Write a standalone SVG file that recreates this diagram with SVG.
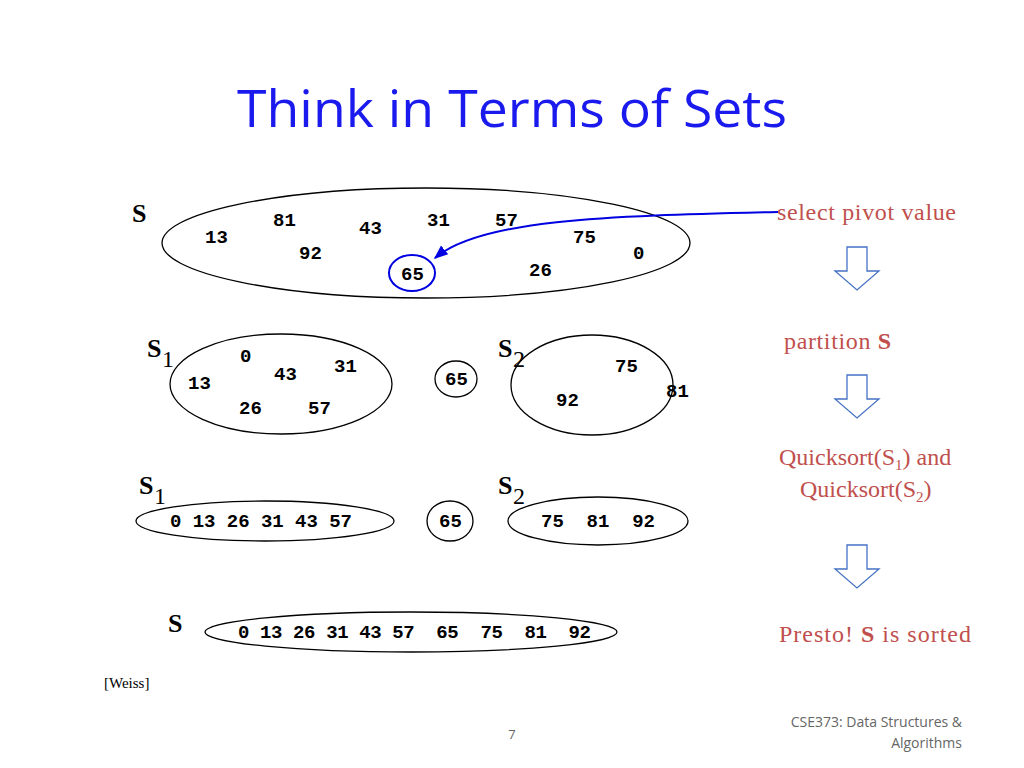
<svg xmlns="http://www.w3.org/2000/svg" width="1024" height="768" viewBox="0 0 1024 768">
<style>
.e{fill:none;stroke:#000;stroke-width:1.3}
.n{font-family:"Liberation Mono",monospace;font-weight:bold;font-size:19px;fill:#000}
.s{font-family:"Liberation Serif",serif;font-weight:bold;font-size:26px;fill:#000}
.sub{font-family:"Liberation Serif",serif;font-size:24px;fill:#000}
.r{font-family:"Liberation Serif",serif;font-size:24px;fill:#c0504d}
.da{fill:#fff;stroke:#4472c4;stroke-width:1.3}
</style>
<defs><marker id="ah" viewBox="0 0 10 10" refX="9" refY="5" markerWidth="7" markerHeight="7" orient="auto"><path d="M0,1 L10,5 L0,9 z" fill="#0000e0"/></marker>
<path id="dn" d="M-10,0 H10 V24 H22 L0,43 L-22,24 H-10 Z"/></defs>
<text x="237" y="127" textLength="550" lengthAdjust="spacingAndGlyphs" font-family="Open Sans,sans-serif" font-size="52" fill="#1a1aee">Think in Terms of Sets</text>
<g id="setS">
<ellipse class="e" cx="426" cy="243" rx="264" ry="55"/>
<text class="s" x="132" y="222">S</text>
<text class="n" x="273" y="226">81</text><text class="n" x="359" y="234">43</text><text class="n" x="427" y="226">31</text><text class="n" x="495" y="226">57</text>
<text class="n" x="205" y="243">13</text><text class="n" x="573" y="243">75</text><text class="n" x="633" y="259">0</text><text class="n" x="299" y="259">92</text>
<text class="n" x="529" y="276">26</text>
<ellipse cx="412" cy="273" rx="23" ry="18" fill="none" stroke="#0000e0" stroke-width="2"/>
<text class="n" x="401" y="280">65</text>
</g>
<g id="row2">
<ellipse class="e" cx="281" cy="384" rx="111" ry="50"/>
<text class="s" x="147" y="357">S</text><text class="sub" x="162" y="367">1</text>
<text class="n" x="240" y="362">0</text><text class="n" x="274" y="380">43</text><text class="n" x="334" y="372">31</text><text class="n" x="188" y="389">13</text><text class="n" x="239" y="414">26</text><text class="n" x="308" y="414">57</text>
<ellipse class="e" cx="456" cy="379" rx="21" ry="18"/><text class="n" x="445" y="385">65</text>
<ellipse class="e" cx="592" cy="385" rx="81" ry="50"/>
<text class="s" x="498" y="357">S</text><text class="sub" x="513" y="367">2</text>
<text class="n" x="615" y="372">75</text><text class="n" x="666" y="397">81</text><text class="n" x="556" y="406">92</text>
</g>
<g id="row3">
<text class="s" x="139" y="494">S</text><text class="sub" x="154" y="504">1</text>
<ellipse class="e" cx="265" cy="521" rx="129" ry="20"/><text class="n" x="170" y="527" textLength="182">0 13 26 31 43 57</text>
<ellipse class="e" cx="450" cy="521" rx="23" ry="20"/><text class="n" x="439" y="527">65</text>
<text class="s" x="498" y="494">S</text><text class="sub" x="513" y="504">2</text>
<ellipse class="e" cx="598" cy="521" rx="90" ry="24"/><text class="n" x="541" y="527" xml:space="preserve">75  81  92</text>
</g>
<g id="row4">
<text class="s" x="168" y="632">S</text>
<ellipse class="e" cx="411" cy="632" rx="206" ry="20"/><text class="n" x="238" y="638" textLength="353" xml:space="preserve">0 13 26 31 43 57  65  75  81  92</text>
</g>
<g id="labels">
<text class="r" x="777" y="220" textLength="179">select pivot value</text>
<text class="r" x="784" y="349" textLength="107">partition <tspan font-weight="bold">S</tspan></text>
<text class="r" x="779" y="465">Quicksort(S<tspan font-size="15" dy="5">1</tspan><tspan dy="-5">) and</tspan></text>
<text class="r" x="800" y="497">Quicksort(S<tspan font-size="15" dy="5">2</tspan><tspan dy="-5">)</tspan></text>
<text class="r" x="779" y="642" textLength="192">Presto!  <tspan font-weight="bold">S</tspan> is sorted</text>
<use href="#dn" class="da" x="857" y="247"/><use href="#dn" class="da" x="857" y="375"/><use href="#dn" class="da" x="857" y="545"/>
</g>
<g id="connectors"><path d="M778,212 C600,216 480,220 435,258" fill="none" stroke="#0000e0" stroke-width="2" marker-end="url(#ah)"/></g>
<text x="104" y="688" font-family="Liberation Serif,serif" font-size="15">[Weiss]</text>
<text x="512" y="739" text-anchor="middle" font-family="Open Sans,sans-serif" font-size="13" fill="#666">7</text>
<text x="962" y="727" text-anchor="end" font-family="Open Sans,sans-serif" font-size="14" fill="#666">CSE373: Data Structures &amp;</text>
<text x="962" y="748" text-anchor="end" font-family="Open Sans,sans-serif" font-size="14" fill="#666">Algorithms</text>
</svg>
